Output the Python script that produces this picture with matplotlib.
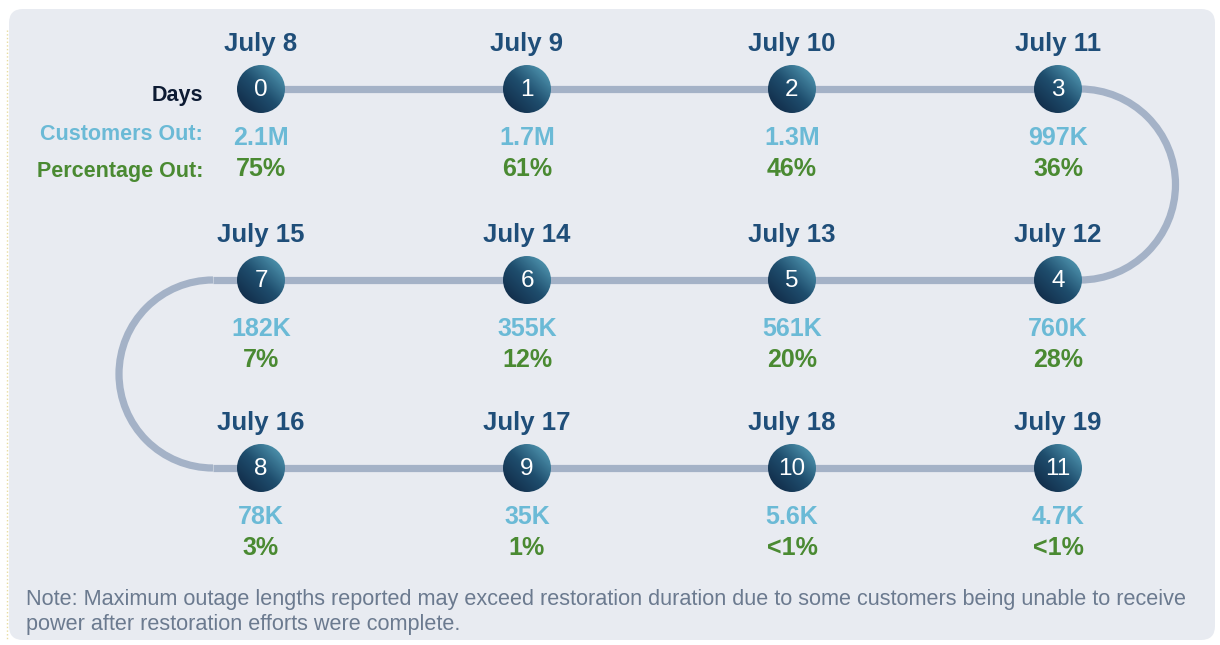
import numpy as np
import matplotlib.pyplot as plt
from matplotlib.patches import FancyBboxPatch, Circle, Arc
from matplotlib.colors import LinearSegmentedColormap

plt.rcParams['font.family'] = ['Liberation Sans', 'DejaVu Sans']

dates = ['July 8', 'July 9', 'July 10', 'July 11', 'July 12', 'July 13',
         'July 14', 'July 15', 'July 16', 'July 17', 'July 18', 'July 19']
days = [0, 1, 2, 3, 4, 5, 6, 7, 8, 9, 10, 11]
customers_out = ['2.1M', '1.7M', '1.3M', '997K', '760K', '561K',
                 '355K', '182K', '78K', '35K', '5.6K', '4.7K']
percent_out = ['75%', '61%', '46%', '36%', '28%', '20%',
               '12%', '7%', '3%', '1%', '<1%', '<1%']

note = ("Note: Maximum outage lengths reported may exceed restoration duration due to some customers being unable to receive\n"
        "power after restoration efforts were complete.")

date_col = '#1f4e79'
cust_col = '#6bbad6'
pct_col = '#4a8a32'
track_col = '#a4b2c7'

fig = plt.figure(figsize=(12.2, 6.45), dpi=100)
ax = fig.add_axes([0, 0, 1, 1])
ax.set_xlim(0, 1220)
ax.set_ylim(645, 0)
ax.axis('off')

# panel background
ax.add_patch(FancyBboxPatch((9, 9), 1206, 631, boxstyle='round,pad=0,rounding_size=14',
                            fc='#e8ebf1', ec='none', zorder=0))
ax.plot([7, 7], [30, 640], color='#e8dca0', lw=1, ls=':', zorder=0)

# snake layout: 4 per row, direction alternates
col_x = [261, 527, 792, 1058]
row_y = [89, 280, 468]
xs, ys = [], []
for i in range(len(days)):
    r = i // 4
    c = i % 4 if r % 2 == 0 else 3 - i % 4
    xs.append(col_x[c])
    ys.append(row_y[r])

# track
lw = 5.2
ax.plot([col_x[0], 1080], [row_y[0]] * 2, color=track_col, lw=lw, solid_capstyle='butt', zorder=1)
ax.plot([213, 1080], [row_y[1]] * 2, color=track_col, lw=lw, solid_capstyle='butt', zorder=1)
ax.plot([213, col_x[3]], [row_y[2]] * 2, color=track_col, lw=lw, solid_capstyle='butt', zorder=1)
h1 = row_y[1] - row_y[0]
h2 = row_y[2] - row_y[1]
ax.add_patch(Arc((1080, (row_y[0] + row_y[1]) / 2), h1, h1, theta1=-90, theta2=90,
                 color=track_col, lw=lw, zorder=1))
ax.add_patch(Arc((213, (row_y[1] + row_y[2]) / 2), h2, h2, theta1=90, theta2=270,
                 color=track_col, lw=lw, zorder=1))

# gradient for nodes
g = np.linspace(0, 1, 64)
gx, gy = np.meshgrid(g, g)
grad = (gx + (1 - gy)) / 2
cmap = LinearSegmentedColormap.from_list('node', ['#0e2440', '#1f4e6e', '#5aa6bf'])

rad = 24
for i in range(len(days)):
    x, y = xs[i], ys[i]
    circ = Circle((x, y), rad, fc='none', ec='none', zorder=3)
    ax.add_patch(circ)
    im = ax.imshow(grad, cmap=cmap, extent=(x - rad, x + rad, y + rad, y - rad), zorder=3)
    im.set_clip_path(circ)
    ax.text(x, y + 1, str(days[i]), color='white', fontsize=17.5, ha='center', va='center', zorder=4)
    ax.text(x, y - 45, dates[i], color=date_col, fontsize=18.5, fontweight='bold',
            ha='center', va='center', zorder=4)
    ax.text(x, y + 49, customers_out[i], color=cust_col, fontsize=18, fontweight='bold',
            ha='center', va='center', zorder=4)
    ax.text(x, y + 80, percent_out[i], color=pct_col, fontsize=18, fontweight='bold',
            ha='center', va='center', zorder=4)

ax.set_aspect('auto')

ax.text(203, 95, 'Days', color='#0d1b33', fontsize=15.5, fontweight='bold', ha='right', va='center')
ax.text(203, 135, 'Customers Out:', color=cust_col, fontsize=15.5, fontweight='bold', ha='right', va='center')
ax.text(203, 171, 'Percentage Out:', color=pct_col, fontsize=15.5, fontweight='bold', ha='right', va='center')

ax.text(26, 612, note, color='#6b7a8f', fontsize=15.6, ha='left', va='center', linespacing=1.3)

fig.savefig('out.png', dpi=100, facecolor='white')
